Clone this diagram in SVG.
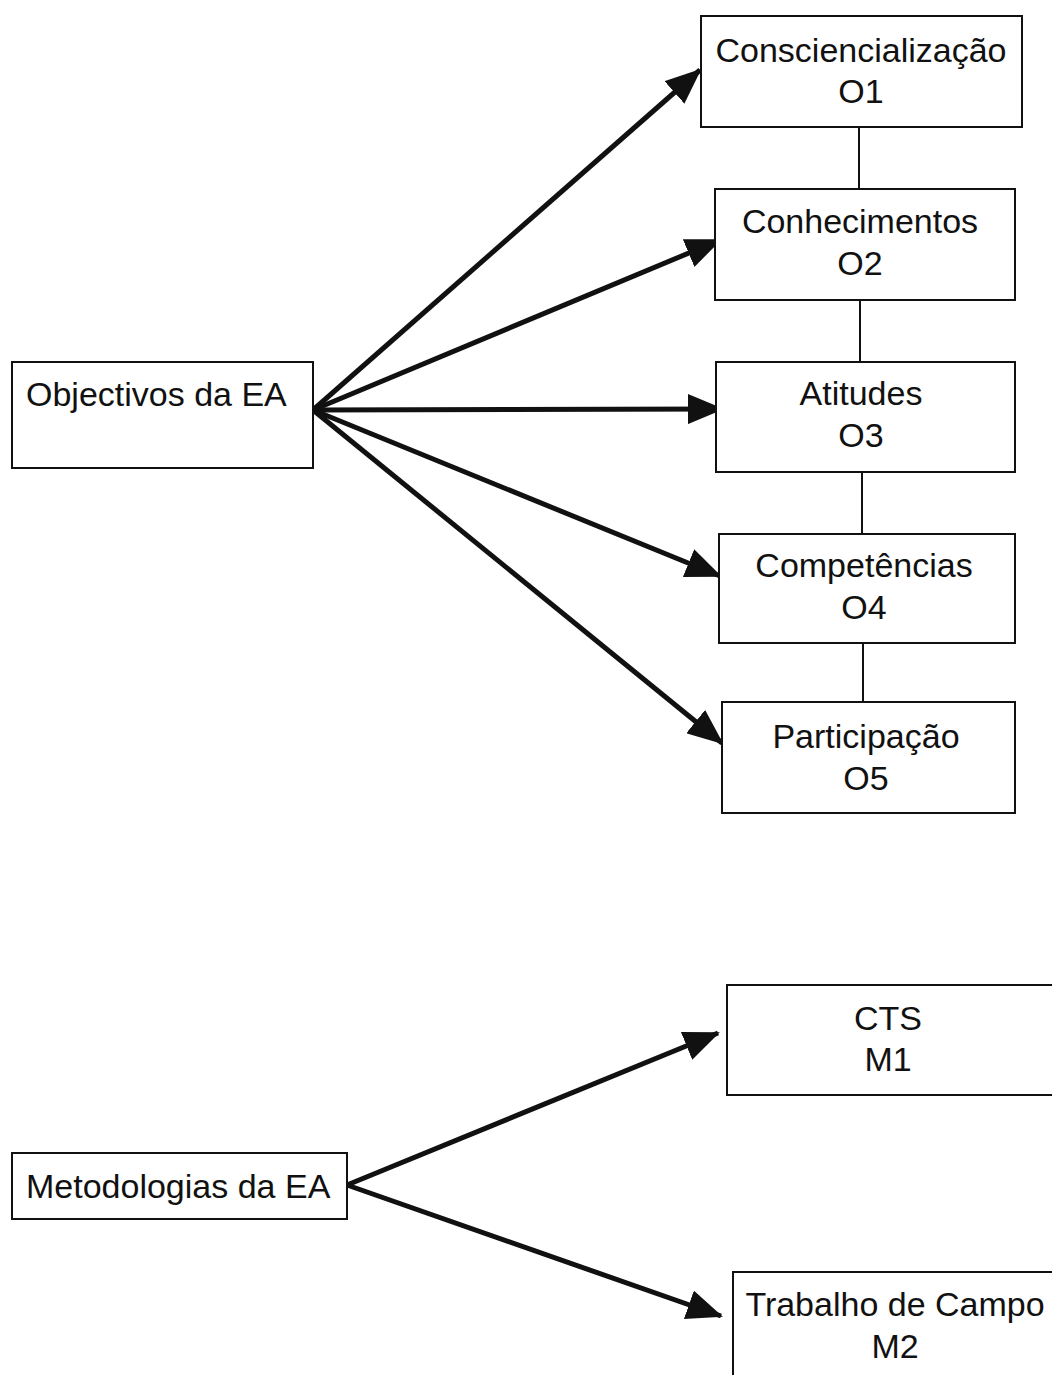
<svg xmlns="http://www.w3.org/2000/svg" width="1052" height="1375" viewBox="0 0 1052 1375">
  <style>
    .box { fill: #ffffff; stroke: #111111; stroke-width: 2; }
    .lbl { font-family: "Liberation Sans", Arial, sans-serif; font-size: 34px; fill: #111111; text-anchor: middle; }
    .lbl-l { font-family: "Liberation Sans", Arial, sans-serif; font-size: 34px; fill: #111111; }
    .arrow { stroke: #111111; stroke-width: 5; fill: none; marker-end: url(#head); }
    .link { stroke: #111111; stroke-width: 2; fill: none; }
  </style>
  <defs>
    <marker id="head" markerUnits="userSpaceOnUse" markerWidth="36" markerHeight="30" refX="34" refY="15" orient="auto">
      <path d="M0,0 L36,15 L0,30 Z" fill="#111111"/>
    </marker>
  </defs>
  <rect width="1052" height="1375" fill="#ffffff"/>

  <g id="connectors">
    <line class="link" x1="859" y1="127" x2="859" y2="189"/>
    <line class="link" x1="860" y1="300" x2="860" y2="362"/>
    <line class="link" x1="862" y1="472" x2="862" y2="534"/>
    <line class="link" x1="863" y1="643" x2="863" y2="702"/>
    <line class="arrow" x1="313" y1="410" x2="700" y2="70"/>
    <line class="arrow" x1="313" y1="410" x2="720" y2="240"/>
    <line class="arrow" x1="313" y1="410" x2="722" y2="409"/>
    <line class="arrow" x1="313" y1="410" x2="720" y2="576"/>
    <line class="arrow" x1="313" y1="410" x2="722" y2="743"/>
    <line class="arrow" x1="347" y1="1185" x2="718" y2="1033"/>
    <line class="arrow" x1="347" y1="1185" x2="721" y2="1316"/>
  </g>

  <g id="objectivos">
    <rect class="box" x="12" y="362" width="301" height="106"/>
    <text class="lbl-l" x="26" y="406">Objectivos da EA</text>
  </g>

  <g id="o1">
    <rect class="box" x="701" y="16" width="321" height="111"/>
    <text class="lbl" x="861" y="62">Consciencialização</text>
    <text class="lbl" x="861" y="103">O1</text>
  </g>

  <g id="o2">
    <rect class="box" x="715" y="189" width="300" height="111"/>
    <text class="lbl" x="860" y="233">Conhecimentos</text>
    <text class="lbl" x="860" y="275">O2</text>
  </g>

  <g id="o3">
    <rect class="box" x="716" y="362" width="299" height="110"/>
    <text class="lbl" x="861" y="405">Atitudes</text>
    <text class="lbl" x="861" y="447">O3</text>
  </g>

  <g id="o4">
    <rect class="box" x="719" y="534" width="296" height="109"/>
    <text class="lbl" x="864" y="577">Competências</text>
    <text class="lbl" x="864" y="619">O4</text>
  </g>

  <g id="o5">
    <rect class="box" x="722" y="702" width="293" height="111"/>
    <text class="lbl" x="866" y="748">Participação</text>
    <text class="lbl" x="866" y="790">O5</text>
  </g>

  <g id="metodologias">
    <rect class="box" x="12" y="1153" width="335" height="66"/>
    <text class="lbl-l" x="26" y="1198">Metodologias da EA</text>
  </g>

  <g id="m1">
    <rect class="box" x="727" y="985" width="340" height="110"/>
    <text class="lbl" x="888" y="1030">CTS</text>
    <text class="lbl" x="888" y="1071">M1</text>
  </g>

  <g id="m2">
    <rect class="box" x="733" y="1272" width="340" height="120"/>
    <text class="lbl" x="895" y="1316">Trabalho de Campo</text>
    <text class="lbl" x="895" y="1358">M2</text>
  </g>
</svg>
